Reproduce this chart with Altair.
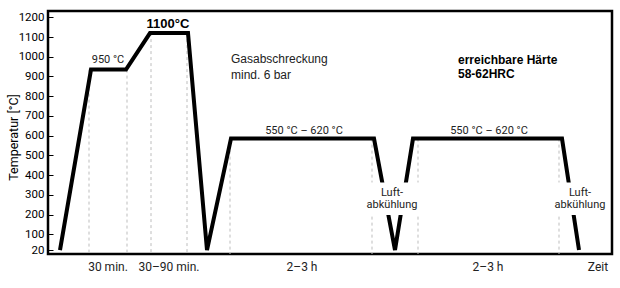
import altair as alt
import pandas as pd

# Temperature profile (x = time position along the chart, arbitrary units; t = °C)
profile_x = [12, 43, 78, 102, 140, 159, 183, 326, 347, 365, 514, 531]
profile_t = [20, 935, 935, 1120, 1120, 20, 585, 585, 20, 585, 585, 20]

# Dashed guide lines (time position, top temperature)
guide_x = [41, 79, 103, 139, 182, 324, 370, 511]
guide_top = [935, 935, 1120, 1120, 585, 585, 585, 585]

# Y tick values
y_ticks = [20, 100, 200, 300, 400, 500, 600, 700, 800, 900, 1000, 1100, 1200]

# Boxes that interrupt the cooling lines behind the "Luftabkühlung" labels
box_x1 = [323, 507]
box_x2 = [372, 557]
box_t1 = [198, 198]
box_t2 = [362, 362]

# Annotations
plain_text = ["950 °C", "550 °C – 620 °C", "550 °C – 620 °C", "Luft-", "abkühlung", "Luft-", "abkühlung"]
plain_x = [60, 256, 441, 344, 344, 532, 532]
plain_t = [984, 624, 624, 309, 250, 309, 250]

note_text = ["Gasabschreckung", "mind. 6 bar"]
note_x = [183, 183]
note_t = [989, 908]

bold_note_text = ["erreichbare Härte", "58-62HRC"]
bold_note_x = [410, 410]
bold_note_t = [984, 913]

peak_text = ["1100°C"]
peak_x = [120]
peak_t = [1166]

time_text = ["30 min.", "30–90 min.", "2–3 h", "2–3 h", "Zeit"]
time_x = [60, 121, 254, 440, 550]
time_t = [-66, -66, -66, -66, -66]

NARROW = "Roboto, sans-serif"
ARIAL = "Liberation Sans, Arial, sans-serif"

xs = alt.Scale(domain=[0, 564])
ys = alt.Scale(domain=[0, 1232])

y_axis = alt.Axis(
    values=y_ticks,
    format="d",
    labelOverlap=False,
    title="Temperatur [°C]",
    grid=False,
    domain=False,
    offset=-5,
    tickSize=5,
    tickColor="black",
    tickWidth=1,
    labelPadding=4,
    labelFont=NARROW,
    labelFontSize=11.5,
    labelColor="black",
    titleFont=NARROW,
    titleFontSize=12.5,
    titleFontWeight="normal",
    titleColor="black",
    titleAngle=-90,
    titleBaseline="middle",
    titleX=-40,
    titleY=126,
)

profile = pd.DataFrame({"x": profile_x, "t": profile_t, "o": list(range(len(profile_x)))})
guides = pd.DataFrame({"x": guide_x, "t": guide_top, "b": [0] * len(guide_x)})
boxes = pd.DataFrame({"x1": box_x1, "x2": box_x2, "t1": box_t1, "t2": box_t2})

guide_layer = alt.Chart(guides).mark_rule(color="#bdbdbd", strokeWidth=1, strokeDash=[3, 3]).encode(
    x=alt.X("x:Q", scale=xs, axis=None),
    y=alt.Y("t:Q", scale=ys, axis=y_axis),
    y2="b:Q",
)

line_layer = alt.Chart(profile).mark_line(color="black", strokeWidth=4, strokeJoin="miter").encode(
    x=alt.X("x:Q", scale=xs, axis=None),
    y=alt.Y("t:Q", scale=ys, axis=y_axis),
    order="o:Q",
)

box_layer = alt.Chart(boxes).mark_rect(color="white").encode(
    x=alt.X("x1:Q", scale=xs, axis=None), x2="x2:Q",
    y=alt.Y("t1:Q", scale=ys, axis=y_axis), y2="t2:Q"
)


def text_layer(texts, xv, tv, **kw):
    df = pd.DataFrame({"x": xv, "t": tv, "label": texts})
    return alt.Chart(df).mark_text(**kw).encode(
        x=alt.X("x:Q", scale=xs, axis=None),
        y=alt.Y("t:Q", scale=ys, axis=y_axis),
        text="label:N",
    )


plain = text_layer(plain_text, plain_x, plain_t, font=NARROW, fontSize=11, color="#222", baseline="middle")
notes = text_layer(note_text, note_x, note_t, font=ARIAL, fontSize=12, color="#222", align="left", baseline="middle")
bold_notes = text_layer(bold_note_text, bold_note_x, bold_note_t, font=ARIAL, fontSize=12, fontWeight="bold",
                        color="black", align="left", baseline="middle")
peak = text_layer(peak_text, peak_x, peak_t, font=ARIAL, fontSize=13, fontWeight="bold", color="black",
                  baseline="middle")
times = text_layer(time_text, time_x, time_t, font=NARROW, fontSize=12, color="#222", baseline="middle")

chart = (
    alt.layer(guide_layer, line_layer, box_layer, plain, notes, bold_notes, peak, times)
    .properties(
        width=564,
        height=243,
        autosize="none",
        padding={"left": 48, "top": 11, "right": 8, "bottom": 34},
        background="white",
    )
    .configure_view(stroke="black", strokeWidth=2.5)
    .configure_axis(labelOverlap=False)
)

chart.save("out.html", embed_options={"renderer": "svg", "actions": False})
